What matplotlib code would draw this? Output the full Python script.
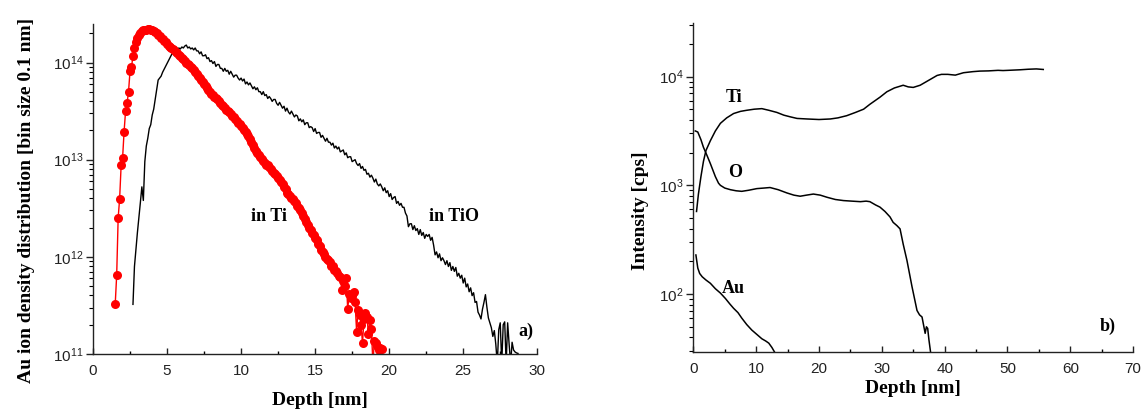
import numpy as np
import matplotlib
matplotlib.use('Agg')
from matplotlib import pyplot as plt
from matplotlib.ticker import LogLocator, MultipleLocator, NullFormatter

plt.rcParams['font.family'] = 'Liberation Sans'
plt.rcParams['mathtext.fontset'] = 'custom'
plt.rcParams['mathtext.rm'] = 'Liberation Sans'
plt.rcParams['mathtext.it'] = 'Liberation Sans:italic'
plt.rcParams['mathtext.bf'] = 'Liberation Sans:bold'

# --- panel a): Au ion density distribution, values are log10 of counts per 0.1 nm bin
ti_start = 1.5      # first bin [nm] of "in Ti"
ti_log = [
    11.51, 11.81, 12.40, 12.60, 12.94, 13.02, 13.29, 13.50, 13.58, 13.70,
    13.91, 13.95, 14.07, 14.15, 14.21, 14.25, 14.28, 14.30, 14.32, 14.33,
    14.335, 14.34, 14.345, 14.345, 14.34, 14.335, 14.325, 14.315, 14.30, 14.285,
    14.27, 14.255, 14.24, 14.225, 14.21, 14.19, 14.175, 14.16, 14.15, 14.14,
    14.13, 14.11, 14.10, 14.08, 14.07, 14.05, 14.04, 14.02, 14.00, 13.99,
    13.97, 13.95, 13.94, 13.92, 13.90, 13.88, 13.86, 13.84, 13.82, 13.80,
    13.78, 13.76, 13.74, 13.72, 13.70, 13.68, 13.67, 13.65, 13.63, 13.62,
    13.60, 13.58, 13.56, 13.55, 13.53, 13.51, 13.50, 13.49, 13.47, 13.45,
    13.44, 13.42, 13.40, 13.38, 13.37, 13.35, 13.33, 13.31, 13.28, 13.26,
    13.24, 13.21, 13.18, 13.15, 13.12, 13.09, 13.07, 13.05, 13.03, 13.01,
    12.99, 12.97, 12.95, 12.94, 12.92, 12.90, 12.88, 12.86, 12.85, 12.83,
    12.81, 12.79, 12.77, 12.75, 12.72, 12.70, 12.66, 12.65, 12.63, 12.61,
    12.59, 12.57, 12.55, 12.52, 12.50, 12.48, 12.45, 12.42, 12.39, 12.36,
    12.33, 12.30, 12.28, 12.25, 12.22, 12.19, 12.17, 12.13, 12.11, 12.07,
    12.05, 12.03, 12.00, 11.98, 11.97, 11.95, 11.91, 11.90, 11.86, 11.85,
    11.83, 11.80, 11.79, 11.66, 11.75, 11.70, 11.78, 11.46, 11.62, 11.58,
    11.60, 11.64, 11.53, 11.23, 11.45, 11.40, 11.30, 11.11, 11.36, 11.42,
    11.38, 11.21, 11.35, 11.26, 10.90, 11.13, 11.11, 11.08, 11.04, 11.06,
    11.05,
]

tio_start = 2.7     # first bin [nm] of "in TiO"
tio_log = [
    11.51, 11.90, 12.08, 12.25, 12.40, 12.56, 12.72, 12.58, 12.98, 13.14,
    13.22, 13.32, 13.36, 13.46, 13.52, 13.62, 13.72, 13.82, 13.84, 13.86,
    13.90, 13.93, 13.96, 13.99, 14.02, 14.05, 14.08, 14.10, 14.12, 14.14,
    14.13, 14.15, 14.14, 14.16, 14.15, 14.17, 14.18, 14.15, 14.16, 14.14,
    14.15, 14.13, 14.15, 14.12,
    14.12, 14.09, 14.11, 14.07, 14.07, 14.08, 14.04, 14.05, 14.01, 14.02,
    13.99, 14.01, 13.96, 13.98, 13.98, 13.94, 13.94, 13.91, 13.94, 13.91,
    13.92, 13.88, 13.91, 13.88, 13.85, 13.87, 13.87, 13.84, 13.82, 13.84,
    13.81, 13.83, 13.78, 13.80, 13.77, 13.79, 13.76, 13.73, 13.75, 13.72,
    13.74, 13.70, 13.70, 13.67, 13.70, 13.66, 13.67, 13.63, 13.65, 13.63,
    13.60, 13.62, 13.62, 13.58, 13.56, 13.59, 13.56, 13.53, 13.55, 13.50,
    13.53, 13.49, 13.47, 13.50, 13.47, 13.44, 13.46, 13.45, 13.40, 13.42,
    13.39, 13.41, 13.36, 13.38, 13.38, 13.33, 13.34, 13.33, 13.29, 13.32,
    13.27, 13.28, 13.28, 13.23, 13.25, 13.22, 13.19, 13.22, 13.18, 13.18,
    13.15, 13.17, 13.12, 13.14, 13.11, 13.13, 13.08, 13.09, 13.10, 13.05,
    13.07, 13.02, 13.03, 13.03, 12.98, 12.99, 13.00, 12.96, 12.94, 12.96,
    12.91, 12.93, 12.89, 12.90, 12.85, 12.86, 12.82, 12.84, 12.81, 12.77,
    12.80, 12.75, 12.73, 12.75, 12.72, 12.68, 12.71, 12.66, 12.68, 12.62,
    12.65, 12.59, 12.61, 12.62, 12.55, 12.57, 12.53, 12.55, 12.51, 12.51,
    12.45, 12.42, 12.31, 12.34, 12.34, 12.28, 12.32, 12.27, 12.29, 12.23,
    12.28, 12.22, 12.25, 12.19, 12.23, 12.21, 12.23, 12.17, 12.20, 12.12,
    12.02, 12.05, 11.99, 12.03, 11.96, 11.99, 11.96, 11.92, 11.96, 11.90,
    11.94, 11.86, 11.90, 11.85, 11.89, 11.80, 11.83, 11.78, 11.81, 11.73,
    11.78, 11.69, 11.72, 11.64, 11.68, 11.60, 11.63, 11.53, 11.54, 11.43,
    11.40, 11.36, 11.46, 11.53, 11.61, 11.48, 11.37, 11.32, 11.27, 11.18,
    11.24, 11.10, 10.90, 11.25, 11.32, 10.90, 11.30, 11.33, 10.90, 11.32,
    11.10, 10.90, 11.12, 11.04, 11.02, 11.01, 11.005,
]

# --- panel b): SIMS depth profiles, (depth [nm], log10 intensity [cps])
ti_depth = [0.5, 0.8, 1.2, 1.6, 2.0, 2.7, 3.5, 4.3, 5.3, 6.4, 7.5, 8.5, 9.7, 10.9, 12.0,
            13.3, 14.4, 15.4, 16.5, 18.1, 20.0, 21.8, 23.0, 24.4, 25.8, 27.1, 28.1, 29.7,
            30.8, 32.0, 33.4, 34.2, 35.0, 36.1, 37.0, 37.9, 38.8, 39.5, 40.5, 41.7, 43.0,
            44.5, 45.6, 47.0, 48.5, 49.3, 50.5, 52.0, 53.3, 54.6, 55.7]
ti_int = [2.76, 2.92, 3.08, 3.22, 3.32, 3.41, 3.50, 3.57, 3.62, 3.66, 3.68, 3.69, 3.70,
          3.705, 3.69, 3.67, 3.645, 3.63, 3.615, 3.61, 3.605, 3.61, 3.62, 3.64, 3.67, 3.70,
          3.745, 3.81, 3.86, 3.895, 3.92, 3.905, 3.90, 3.92, 3.95, 3.98, 4.01, 4.02, 4.02,
          4.013, 4.035, 4.045, 4.05, 4.052, 4.057, 4.055, 4.058, 4.062, 4.067, 4.07, 4.065]

o_depth = [0.3, 0.7, 1.2, 1.6, 2.2, 2.7, 3.1, 3.5, 4.0, 4.3, 5.0, 5.9, 6.8, 7.7, 8.8, 10.1,
           11.2, 12.2, 13.5, 14.9, 16.0, 17.0, 18.0, 19.1, 20.2, 21.3, 22.6, 23.9, 25.2,
           26.6, 27.5, 28.1, 29.0, 29.7, 30.5, 31.3, 31.8, 32.4, 32.9, 33.4, 34.0, 34.4,
           34.8, 35.2, 35.6, 36.0, 36.4, 36.7, 36.9, 37.1, 37.3, 37.5, 37.8]
o_int = [3.50, 3.49, 3.42, 3.35, 3.27, 3.20, 3.14, 3.08, 3.02, 3.00, 2.975, 2.96, 2.95,
         2.945, 2.955, 2.97, 2.975, 2.98, 2.96, 2.93, 2.91, 2.90, 2.91, 2.92, 2.91, 2.89,
         2.87, 2.86, 2.855, 2.85, 2.855, 2.85, 2.82, 2.80, 2.76, 2.71, 2.66, 2.63, 2.60,
         2.46, 2.31, 2.19, 2.07, 1.96, 1.85, 1.81, 1.79, 1.70, 1.64, 1.70, 1.685, 1.58, 1.45]

au_depth = [0.4, 0.5, 0.7, 1.0, 1.4, 2.0, 2.7, 3.5, 4.3, 5.1, 5.8, 6.4, 7.1, 7.7, 8.5, 9.3,
            10.1, 10.9, 11.5, 12.0, 12.5, 13.0]
au_int = [2.36, 2.32, 2.24, 2.19, 2.16, 2.13, 2.10, 2.05, 2.01, 1.96, 1.91, 1.87, 1.83,
          1.78, 1.72, 1.67, 1.63, 1.59, 1.57, 1.55, 1.51, 1.46]

lab_font = dict(family='Liberation Serif', weight='bold', size=14)
txt_font = dict(family='Liberation Serif', weight='bold', size=13)


def style_axes(ax):
    for s in ['top', 'right']:
        ax.spines[s].set_visible(False)
    for s in ['left', 'bottom']:
        ax.spines[s].set_linewidth(1.0)
        ax.spines[s].set_color('#222222')
    ax.tick_params(axis='x', which='major', direction='in', length=4, width=1, pad=7,
                   labelsize=11, colors='#222222')
    ax.tick_params(axis='x', which='minor', direction='in', length=2.5, width=1)
    ax.tick_params(axis='y', which='major', direction='out', length=5, width=1, pad=2,
                   labelsize=11, colors='#222222')
    ax.tick_params(axis='y', which='minor', direction='out', length=3, width=0.8)
    ax.yaxis.set_major_locator(LogLocator(base=10, numticks=10))
    ax.yaxis.set_minor_locator(LogLocator(base=10, subs=np.arange(2, 10), numticks=20))
    ax.yaxis.set_minor_formatter(NullFormatter())


fig = plt.figure(figsize=(11.48, 4.12), dpi=100)

# panel a)
ax1 = fig.add_axes([0.081, 0.141, 0.387, 0.801])
x_ti = ti_start + 0.1 * np.arange(len(ti_log))
x_tio = tio_start + 0.1 * np.arange(len(tio_log))
ax1.plot(x_tio, 10.0 ** np.array(tio_log), color='black', lw=1.0)
ax1.plot(x_ti, 10.0 ** np.array(ti_log), color='red', lw=1.0, marker='o',
         markersize=6.5, markeredgewidth=0)
ax1.set_yscale('log')
ax1.set_xlim(0, 30)
ax1.set_ylim(1e11, 2.5e14)
ax1.xaxis.set_major_locator(MultipleLocator(5))
ax1.xaxis.set_minor_locator(MultipleLocator(2.5))
style_axes(ax1)
ax1.set_xlabel('Depth [nm]', **lab_font)
ax1.set_ylabel('Au ion density distribution [bin size 0.1 nm]', **lab_font)
ax1.xaxis.set_label_coords(0.51, -0.115)
ax1.yaxis.set_label_coords(-0.13, 0.464)
ax1.text(11.9, 10 ** 12.41, 'in Ti', ha='center', va='center', **txt_font)
ax1.text(24.4, 10 ** 12.41, 'in TiO', ha='center', va='center', **txt_font)
ax1.text(29.2, 10 ** 11.23, 'a)', ha='center', va='center', **txt_font)

# panel b)
ax2 = fig.add_axes([0.604, 0.146, 0.383, 0.798])
ax2.plot(ti_depth, 10.0 ** np.array(ti_int), color='black', lw=1.1)
ax2.plot(o_depth, 10.0 ** np.array(o_int), color='black', lw=1.1)
ax2.plot(au_depth, 10.0 ** np.array(au_int), color='black', lw=1.1)
ax2.set_yscale('log')
ax2.set_xlim(0, 70)
ax2.set_ylim(29.5, 3.1e4)
ax2.xaxis.set_major_locator(MultipleLocator(10))
ax2.xaxis.set_minor_locator(MultipleLocator(5))
style_axes(ax2)
ax2.set_xlabel('Depth [nm]', **lab_font)
ax2.set_ylabel('Intensity [cps]', **lab_font)
ax2.xaxis.set_label_coords(0.50, -0.085)
ax2.yaxis.set_label_coords(-0.10, 0.43)
ax2.text(6.4, 10 ** 3.81, 'Ti', ha='center', va='center', **txt_font)
ax2.text(6.6, 10 ** 3.12, 'O', ha='center', va='center', **txt_font)
ax2.text(6.4, 10 ** 2.055, 'Au', ha='center', va='center', **txt_font)
ax2.text(66, 10 ** 1.70, 'b)', ha='center', va='center', **txt_font)

fig.savefig('out.png', dpi=100)
